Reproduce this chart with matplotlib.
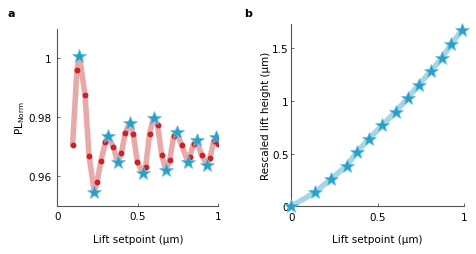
import matplotlib
matplotlib.use("Agg")
import matplotlib.pyplot as plt
import numpy as np

# panel a: measured PL vs lift setpoint (red dots) and extrema (stars)
dot_x = [0.095, 0.122, 0.172, 0.197, 0.246, 0.271, 0.298, 0.348, 0.398, 0.422,
         0.472, 0.497, 0.549, 0.573, 0.623, 0.648, 0.698, 0.723, 0.772, 0.822,
         0.847, 0.896, 0.948, 0.973, 0.998]
dot_y = [0.9706, 0.9962, 0.9877, 0.9670, 0.9580, 0.9651, 0.9715, 0.9700, 0.9678, 0.9747,
         0.9742, 0.9650, 0.9633, 0.9745, 0.9774, 0.9672, 0.9654, 0.9736, 0.9706, 0.9666,
         0.9711, 0.9672, 0.9661, 0.9721, 0.9708]
star_x = [0.137, 0.230, 0.313, 0.375, 0.449, 0.530, 0.598, 0.675, 0.741, 0.810,
          0.865, 0.932, 0.986]
star_y = [1.0009, 0.9545, 0.9738, 0.9647, 0.9781, 0.9612, 0.9798, 0.9621, 0.9751, 0.9650,
          0.9723, 0.9638, 0.9732]

# panel b: rescaled lift height at the extrema
lift_x = [0.0, 0.137, 0.230, 0.321, 0.379, 0.449, 0.528, 0.605, 0.675, 0.739,
          0.809, 0.872, 0.928, 0.990]
lift_y = [0.0, 0.133, 0.259, 0.385, 0.512, 0.638, 0.770, 0.897, 1.026, 1.153,
          1.282, 1.405, 1.538, 1.673]

RED = "#c8232b"
PINK = "#eaa9a9"
STAR = "#2a9fc8"
LIGHTBLUE = "#a6d6e8"
SPINE = "#555555"
FS = 7.5

plt.rcParams["font.family"] = "DejaVu Sans"
fig = plt.figure(figsize=(4.76, 2.55), dpi=100)
ax1 = fig.add_axes([0.1204, 0.1894, 0.3382, 0.693])
ax2 = fig.add_axes([0.612, 0.187, 0.3622, 0.715])

def style(ax):
    for s in ("top", "right"):
        ax.spines[s].set_visible(False)
    for s in ("left", "bottom"):
        ax.spines[s].set_color(SPINE)
        ax.spines[s].set_linewidth(0.8)
    ax.tick_params(direction="in", length=2.5, width=0.6, color=SPINE,
                   labelsize=FS, pad=4)

# line through dots and stars together, ordered by x
lx = np.array(dot_x + star_x)
ly = np.array(dot_y + star_y)
order = np.argsort(lx)
ax1.plot(lx[order], ly[order], color=PINK, lw=4, solid_capstyle="round",
         solid_joinstyle="round", zorder=1)
ax1.plot(dot_x, dot_y, "o", color=RED, ms=3.2, zorder=2)
ax1.plot(star_x, star_y, "*", color=STAR, mec="#6cc3e0", mew=0.5, ms=10, zorder=3)
ax1.set_xlim(0, 1)
ax1.set_ylim(0.95, 1.01)
ax1.set_xticks([0, 0.5, 1])
ax1.set_xticklabels(["0", "0.5", "1"])
ax1.set_yticks([0.96, 0.98, 1.0])
ax1.set_yticklabels(["0.96", "0.98", "1"])
ax1.set_xlabel("Lift setpoint (μm)", fontsize=FS, labelpad=9)
ax1.set_ylabel("PL$_{\\rm Norm}$", fontsize=FS, labelpad=1)
style(ax1)

ax2.plot(lift_x, lift_y, color=LIGHTBLUE, lw=4, solid_capstyle="round", zorder=1)
ax2.plot(lift_x, lift_y, "*", color=STAR, mec="#6cc3e0", mew=0.5, ms=10,
         zorder=3, clip_on=False)
ax2.set_xlim(0, 1)
ax2.set_ylim(0, 1.73)
ax2.set_xticks([0, 0.5, 1])
ax2.set_xticklabels(["0", "0.5", "1"])
ax2.set_yticks([0, 0.5, 1, 1.5])
ax2.set_yticklabels(["0", "0.5", "1", "1.5"])
ax2.set_xlabel("Lift setpoint (μm)", fontsize=FS, labelpad=9)
ax2.set_ylabel("Rescaled lift height (μm)", fontsize=FS, labelpad=1)
ax2.tick_params(axis="y", pad=2)
style(ax2)
ax2.tick_params(axis="y", pad=2)

fig.text(0.015, 0.945, "a", fontsize=8, fontweight="bold", va="center")
fig.text(0.513, 0.945, "b", fontsize=8, fontweight="bold", va="center")

fig.savefig("out.png", dpi=100, facecolor="white")
